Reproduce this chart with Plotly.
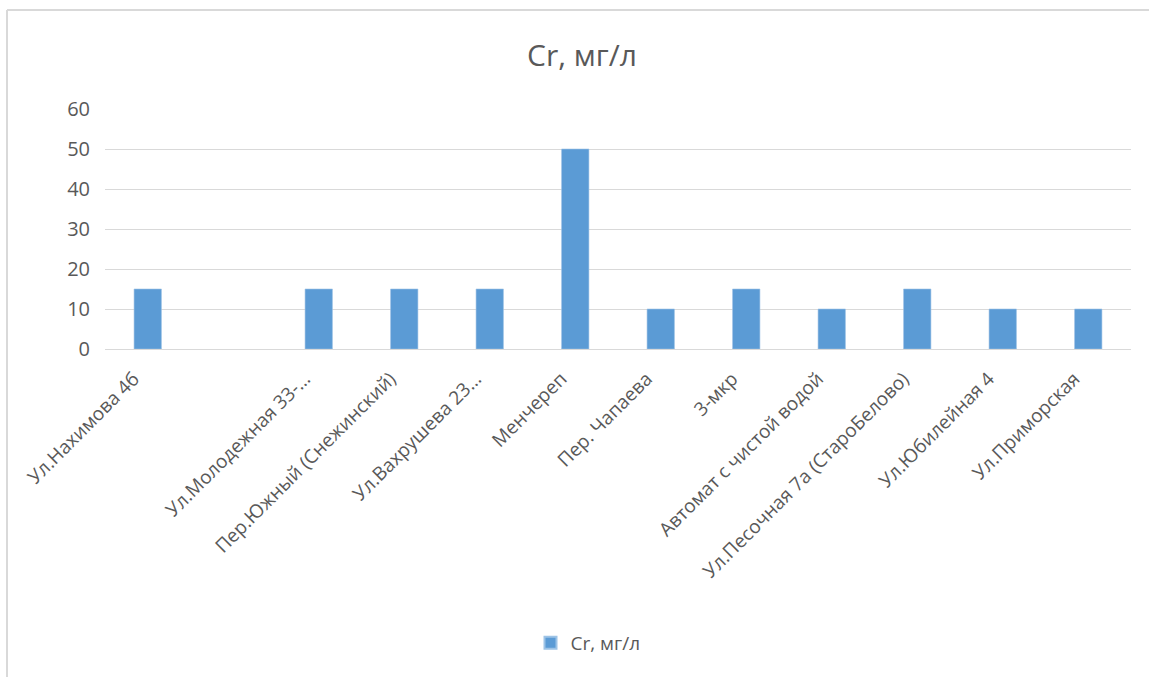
import plotly.graph_objects as go

# Sampling points and chromium concentration, mg/l
locations = [
    "Ул.Нахимова 4б",
    " ",
    "Ул.Молодежная 33-…",
    "Пер.Южный (Снежинский)",
    "Ул.Вахрушева 23…",
    "Менчереп",
    "Пер. Чапаева",
    "3-мкр",
    "Автомат с чистой водой",
    "Ул.Песочная 7а (СтароБелово)",
    "Ул.Юбилейная 4",
    "Ул.Приморская",
]
cr_values = [15, None, 15, 15, 15, 50, 10, 15, 10, 15, 10, 10]
y_ticks = [0, 10, 20, 30, 40, 50, 60]

W, H = 1149, 677
L, R, T, B = 105, 18, 109, 328
plot_w = W - L - R
plot_h = H - T - B

def px_x(px):
    return (px - L) / plot_w

def px_y(py):
    return (H - B - py) / plot_h

text_color = "#595959"
font_family = "Open Sans, Segoe UI, sans-serif"

fig = go.Figure()
fig.add_trace(go.Bar(
    x=locations,
    y=cr_values,
    name="Cr, мг/л",
    marker=dict(color="#5B9BD5", line=dict(color="#9DC3E6", width=0.6)),
    width=0.32,
))

fig.update_layout(
    width=W,
    height=H,
    margin=dict(l=L, r=R, t=T, b=B, autoexpand=False),
    paper_bgcolor="white",
    plot_bgcolor="white",
    title=dict(
        text="Cr, мг/л",
        x=582 / W,
        xref="container",
        xanchor="center",
        y=1 - 55 / H,
        yref="container",
        yanchor="middle",
        font=dict(family="Open Sans, sans-serif", size=30, color=text_color),
    ),
    font=dict(family=font_family, color=text_color),
    xaxis=dict(
        type="category",
        categoryorder="array",
        categoryarray=locations,
        tickangle=-45,
        tickfont=dict(size=19, color=text_color),
        showgrid=False,
        showline=False,
        ticks="",
        range=[-0.5, len(locations) - 0.5],
        fixedrange=True,
        ticklabelstandoff=14,
        ticklabelshift=-14,
        automargin=False,
    ),
    yaxis=dict(
        range=[0, 60],
        tickvals=y_ticks,
        tickfont=dict(size=20, color=text_color),
        showgrid=True,
        gridcolor="#D9D9D9",
        gridwidth=1,
        zeroline=True,
        zerolinecolor="#D9D9D9",
        zerolinewidth=1,
        showline=False,
        ticks="",
        ticklabelstandoff=14,
        automargin=False,
    ),
    showlegend=True,
    legend=dict(
        orientation="h",
        x=px_x(588),
        xanchor="center",
        y=px_y(643),
        yanchor="middle",
        font=dict(size=19, color=text_color),
        itemsizing="constant",
    ),
    bargap=0.68,
)

# Chart frame edges
border = dict(color="#D9D9D9", width=2)
fig.add_shape(type="line", xref="paper", yref="paper",
              x0=px_x(7), x1=px_x(W + 5), y0=px_y(10), y1=px_y(10), line=border)
fig.add_shape(type="line", xref="paper", yref="paper",
              x0=px_x(7), x1=px_x(7), y0=px_y(10), y1=px_y(H + 5), line=border)

fig.write_html("out.html")
